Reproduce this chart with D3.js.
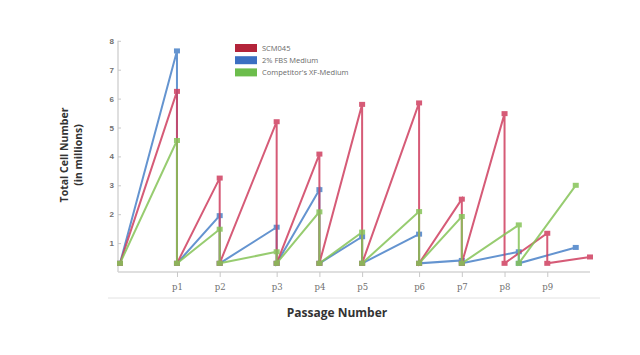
<!DOCTYPE html>
<html>
<head>
<meta charset="utf-8">
<script src="https://cdn.jsdelivr.net/npm/d3@7"></script>
<style>
	body { margin: 0; background: #fff; }
	svg { display: block; font-family: "Open Sans", "Liberation Sans", sans-serif; }
</style>
</head>
<body>
<svg id="chart"></svg>
<script>
// passage labels and the culture day on which each passage happened
const passageLabels = ["p1", "p2", "p3", "p4", "p5", "p6", "p7", "p8", "p9"];
const passageDays = [4, 7, 11, 14, 17, 21, 24, 27, 30];
const seedCount = 0.3;
const yTicks = [1, 2, 3, 4, 5, 6, 7, 8];

// harvest days and cell counts (millions) for each medium
const scmDays = [4, 7, 11, 14, 17, 21, 24, 27, 30, 33];
const scmCounts = [6.25, 3.25, 5.2, 4.08, 5.8, 5.85, 2.52, 5.48, 1.34, 0.52];
const fbsDays = [4, 7, 11, 14, 17, 21, 24, 28, 32];
const fbsCounts = [7.65, 1.95, 1.55, 2.85, 1.22, 1.31, 0.4, 0.7, 0.85];
const xfDays = [4, 7, 11, 14, 17, 21, 24, 28, 32];
const xfCounts = [4.55, 1.48, 0.7, 2.08, 1.38, 2.09, 1.92, 1.63, 3.0];

const seriesNames = ["SCM045", "2% FBS Medium", "Competitor's XF-Medium"];

const width = 640;
const height = 355;

const svg = d3.select("#chart")
	.attr("width", width)
	.attr("height", height);

const x = d3.scaleLinear().domain([0, 33]).range([120, 590]);
const y = d3.scaleLinear().domain([0, 8]).range([272, 40.8]);

// build the sawtooth: seed -> harvest -> reseed at the same day
function sawtooth(days, counts) {
	const pts = [[0, seedCount]];
	days.forEach((d, i) => {
		pts.push([d, counts[i]]);
		if (i < days.length - 1) pts.push([d, seedCount]);
	});
	return pts;
}

const series = [
	{ name: seriesNames[1], color: "#4a82c8", swatch: "#3b6fc2", pts: sawtooth(fbsDays, fbsCounts) },
	{ name: seriesNames[0], color: "#cf3f60", swatch: "#b3243a", pts: sawtooth(scmDays, scmCounts) },
	{ name: seriesNames[2], color: "#86c458", swatch: "#6cbd4c", pts: sawtooth(xfDays, xfCounts) }
];

// axes
svg.append("line")
	.attr("x1", 118).attr("x2", 118)
	.attr("y1", y(8)).attr("y2", y(0))
	.attr("stroke", "#d4d4d4").attr("stroke-width", 1.5);

svg.append("line")
	.attr("x1", 118).attr("x2", x(33))
	.attr("y1", y(0)).attr("y2", y(0))
	.attr("stroke", "#d4d4d4").attr("stroke-width", 1.5);

const yAxis = svg.append("g").attr("transform", "translate(118,0)")
	.call(d3.axisLeft(y).tickValues(yTicks).tickSize(-3).tickPadding(4).tickFormat(d3.format("d")));
yAxis.select(".domain").remove();
yAxis.selectAll(".tick line").attr("stroke", "#c8c8c8");
yAxis.selectAll("text").attr("fill", "#707070").style("font-size", "8px").attr("font-weight", "bold");

const xAxis = svg.append("g").attr("transform", `translate(0,${y(0)})`)
	.call(d3.axisBottom(x).tickValues(passageDays).tickSize(5).tickPadding(7)
		.tickFormat((d, i) => passageLabels[i]));
xAxis.select(".domain").remove();
xAxis.selectAll(".tick line").attr("stroke", "#c8c8c8");
xAxis.selectAll("text").attr("fill", "#707070").style("font-size", "8.5px")
	.style("font-family", "'DejaVu Serif', serif");

// separator line above x title
svg.append("line")
	.attr("x1", 108).attr("x2", 600)
	.attr("y1", 298).attr("y2", 298)
	.attr("stroke", "#e2e2e2").attr("stroke-width", 1);

svg.append("text")
	.attr("x", 337).attr("y", 317)
	.attr("text-anchor", "middle")
	.attr("font-weight", "bold")
	.style("font-size", "12px")
	.attr("fill", "#333")
	.text("Passage Number");

const yTitle = svg.append("text")
	.attr("transform", "translate(68,155) rotate(-90)")
	.attr("text-anchor", "middle")
	.attr("font-weight", "bold")
	.style("font-size", "10.5px")
	.attr("fill", "#333");
yTitle.append("tspan").attr("x", 0).attr("dy", 0).text("Total Cell Number");
yTitle.append("tspan").attr("x", 0).attr("dy", "1.3em").text("(in millions)");

// lines and markers
const line = d3.line().x(d => x(d[0])).y(d => y(d[1]));

series.forEach(s => {
	const g = svg.append("g").attr("opacity", 0.85);
	g.append("path")
		.attr("d", line(s.pts))
		.attr("fill", "none")
		.attr("stroke", s.color)
		.attr("stroke-width", 2);
	g.selectAll("rect")
		.data(s.pts)
		.enter().append("rect")
		.attr("x", d => x(d[0]) - 3)
		.attr("y", d => y(d[1]) - 2.5)
		.attr("width", 6)
		.attr("height", 5)
		.attr("fill", s.color);
});

// legend
const legendOrder = [series[1], series[0], series[2]];
const legend = svg.append("g").attr("transform", "translate(235,44)");
const items = legend.selectAll(".legend-item")
	.data(legendOrder)
	.enter().append("g")
	.attr("class", "legend-item")
	.attr("transform", (d, i) => `translate(0, ${i * 12.2})`);
items.append("rect")
	.attr("width", 22)
	.attr("height", 8)
	.attr("fill", d => d.swatch);
items.append("text")
	.attr("x", 27)
	.attr("y", 7)
	.style("font-size", "7.5px")
	.attr("fill", "#6a6a6a")
	.text(d => d.name);
</script>
</body>
</html>
